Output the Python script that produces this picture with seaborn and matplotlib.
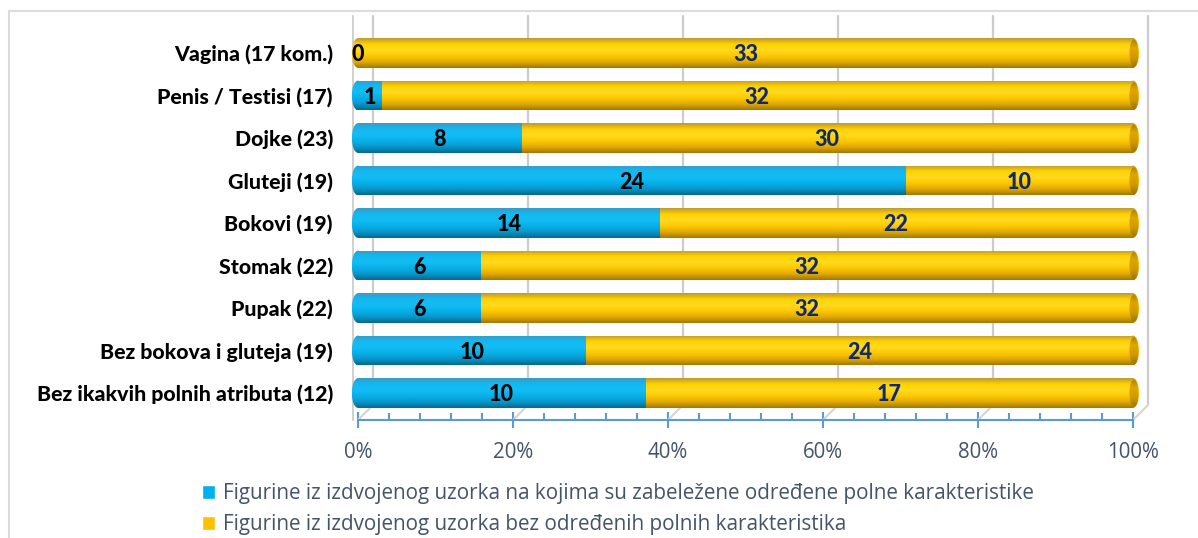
import matplotlib
matplotlib.use("Agg")
import matplotlib.pyplot as plt
import numpy as np
import pandas as pd
import seaborn as sns
from matplotlib.colors import LinearSegmentedColormap
from matplotlib.patches import Ellipse, Patch, Rectangle
from matplotlib.ticker import FixedLocator, PercentFormatter
from matplotlib.transforms import ScaledTranslation

# Data
categories = ['Vagina (17 kom.)', 'Penis / Testisi (17)', 'Dojke (23)', 'Gluteji (19)',
              'Bokovi (19)', 'Stomak (22)', 'Pupak (22)', 'Bez bokova i gluteja (19)',
              'Bez ikakvih polnih atributa (12)']
with_traits = [0, 1, 8, 24, 14, 6, 6, 10, 10]
without_traits = [33, 32, 30, 10, 22, 32, 32, 24, 17]
series_names = ['Figurine iz izdvojenog uzorka na kojima su zabeležene određene polne karakteristike',
                'Figurine iz izdvojenog uzorka bez određenih polnih karakteristika']
major_ticks = [0, 20, 40, 60, 80, 100]
minor_ticks = list(range(0, 101, 4))

BLUE = '#00B0F0'
YELLOW = '#FFC000'
TEXT_GRAY = '#44546A'

df = pd.DataFrame({'category': categories, 'blue': with_traits, 'yellow': without_traits})
df['total'] = df['blue'] + df['yellow']
df['blue_pct'] = 100 * df['blue'] / df['total']
df['full'] = 100.0

sns.set_style('white')
plt.rcParams['font.family'] = ['Lato', 'DejaVu Sans']

W, H, DPI = 1198, 538, 100
PX = 7.75          # pixels per percent on the x axis
PAD_L, PAD_R = 1.3, 1.8
XMIN, XMAX = -PAD_L, 100 + PAD_R
fig = plt.figure(figsize=(W / DPI, H / DPI), dpi=DPI)
ax = fig.add_axes([(358 - PAD_L * PX) / W, 1 - 420 / H, (XMAX - XMIN) * PX / W, 404 / H])

# stacked look: full yellow bar, blue share on top
sns.barplot(data=df, x='full', y='category', color=YELLOW, width=0.7, orient='h', ax=ax, zorder=3)
sns.barplot(data=df, x='blue_pct', y='category', color=BLUE, width=0.7, orient='h', ax=ax, zorder=3)

# cylinder shading
grad = np.linspace(0, 1, 64).reshape(-1, 1)
cmap_y = LinearSegmentedColormap.from_list('y', ['#BE9A30', '#FFD200', '#FFDA20', '#FCC800', '#E2AA00', '#A57800'])
cmap_b = LinearSegmentedColormap.from_list('b', ['#3A9CC4', '#12B9F2', '#14BCF4', '#08B0EA', '#0896CA', '#06698F'])
cmap_cap = LinearSegmentedColormap.from_list('c', ['#A87C00', '#E0A600', '#D09800', '#987000'])

n = len(categories)
patches = list(ax.patches)
yellow_bars, blue_bars = patches[:n], patches[n:]
rx = 0.8

def shade(shape, x0, x1, y0, y1, cmap, z):
    im = ax.imshow(grad, cmap=cmap, aspect='auto', extent=(x0, x1, y1, y0),
                   interpolation='bilinear', zorder=z)
    im.set_clip_path(shape)

for yb, bb in zip(yellow_bars, blue_bars):
    y0, h = yb.get_y(), yb.get_height()
    yc = y0 + h / 2
    bx0, bw = bb.get_x(), bb.get_width()
    for p in (yb, bb):
        p.set_facecolor('none')
        p.set_edgecolor('none')
    xr = yb.get_x() + yb.get_width()
    shade(yb, bx0 + bw, xr, y0, y0 + h, cmap_y, 3)
    if bw > 0:
        shade(bb, bx0, bx0 + bw, y0, y0 + h, cmap_b, 3.1)
        left_cmap = cmap_b
    else:
        left_cmap = cmap_y
    cap_l = Ellipse((bx0, yc), 2 * rx, h, facecolor='none', edgecolor='none')
    ax.add_patch(cap_l)
    shade(cap_l, bx0 - rx, bx0 + rx, y0, y0 + h, left_cmap, 3.2)
    body_r = Ellipse((xr, yc), 2 * rx, h, facecolor='none', edgecolor='none')
    ax.add_patch(body_r)
    shade(body_r, xr - rx, xr + rx, y0, y0 + h, cmap_y, 3.2)
    cap_r = Ellipse((xr + 0.15 * rx, yc), 1.45 * rx, h * 0.9, facecolor='none', edgecolor='none')
    ax.add_patch(cap_r)
    shade(cap_r, xr - rx, xr + rx, y0, y0 + h, cmap_cap, 3.3)

ax.set_xlim(XMIN, XMAX)
ax.set_ylim(8 + 27 / 42.5, -37 / 42.5)

# value labels
lab_font = dict(ha='center', va='center', fontsize=15.5, fontweight='black', zorder=6)
for i, (b, y, bp) in enumerate(zip(with_traits, without_traits, df['blue_pct'])):
    ax.text(bp / 2, i + 0.04, str(b), color='black', **lab_font)
    ax.text((bp + 100) / 2, i + 0.04, str(y), color='#10296A', **lab_font)

# category labels (bold), right-aligned left of the plot
cat_tr = ax.get_yaxis_transform() + ScaledTranslation(-15 / DPI, 0, fig.dpi_scale_trans)
ax.set_yticks(range(n))
ax.set_yticklabels([])
for i, cat in enumerate(categories):
    ax.text(0, i + 0.03, cat, transform=cat_tr, ha='right', va='center',
            fontsize=15.3, fontweight='black', color='black')

# 3D-ish back wall gridlines and floor
depth = ScaledTranslation(15 / DPI, 0, fig.dpi_scale_trans)
floor_y = 15 / 404
back = ax.get_xaxis_transform() + depth
for v in major_ticks:
    ax.plot([v, v], [1, floor_y], transform=back, color='#CCCCCC', lw=1.6, zorder=1, clip_on=False)
    ax.plot([v + 15 / PX, v], [floor_y, 0], transform=ax.get_xaxis_transform(),
            color='#D6D6D6', lw=1.6, zorder=1, clip_on=False)

ax.set_xlabel('')
ax.set_ylabel('')
ax.tick_params(axis='y', length=0)

ax.xaxis.set_major_locator(FixedLocator(major_ticks))
ax.xaxis.set_minor_locator(FixedLocator(minor_ticks))
ax.xaxis.set_major_formatter(PercentFormatter(100, decimals=0))
ax.tick_params(axis='x', which='major', direction='inout', length=11, width=1.5,
               color='#5B9BD5', labelsize=14.8, labelcolor=TEXT_GRAY, pad=10)
ax.tick_params(axis='x', which='minor', direction='in', length=5, width=1.5, color='#5B9BD5')
ax.xaxis.set_ticks_position('bottom')
for lbl in ax.get_xticklabels():
    lbl.set_fontfamily('Open Sans')

sns.despine(ax=ax, top=True, right=True)
ax.spines['bottom'].set_color('#5B9BD5')
ax.spines['bottom'].set_linewidth(1.5)
ax.spines['bottom'].set_bounds(0, 100)
ax.spines['left'].set_color('#C8C8C8')
ax.spines['left'].set_linewidth(1.2)
ax.spines['left'].set_position(('data', -0.6))

# outer chart frame
fig.patches.append(Rectangle((9 / W, -0.1), 1.2, 1.1 - 11 / H, transform=fig.transFigure,
                             fill=False, edgecolor='#D9DDE3', lw=1.5))

handles = [Patch(facecolor=BLUE), Patch(facecolor=YELLOW)]
fig.legend(handles, series_names, loc='upper left', bbox_to_anchor=(192 / W, 1 - 473 / H),
           frameon=False, prop={'family': 'Open Sans', 'size': 14.9}, labelcolor=TEXT_GRAY,
           handlelength=0.62, handleheight=0.62, handletextpad=0.4, labelspacing=0.48, borderpad=0)

fig.savefig('out.png', dpi=DPI)
